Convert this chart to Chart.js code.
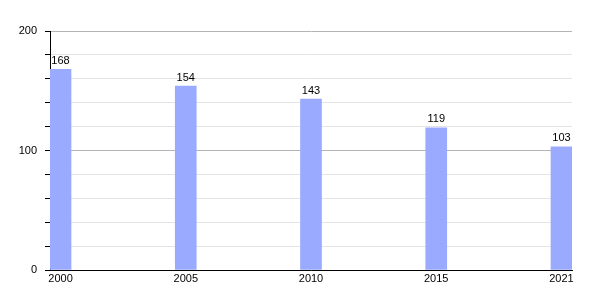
<!DOCTYPE html>
<html>
<head>
<meta charset="utf-8">
<script src="https://cdn.jsdelivr.net/npm/chart.js@4"></script>
<style>
  body { margin: 0; background: #fff; }
  canvas { display: block; }
</style>
</head>
<body>
<canvas id="chart" width="600" height="300"></canvas>
<script>
(function () {

    var years = ['2000', '2005', '2010', '2015', '2021'];
    var population = [168, 154, 143, 119, 103];
    var yTickLabels = [0, 100, 200];

    // bars sit on integer x positions, so the first and last touch the plot edges
    var points = population.map(function (v, i) { return {x: i, y: v}; });

    // little plugin to write the value above each bar
    var valueLabels = {
      id: 'valueLabels',
      afterDatasetsDraw: function (chart) {
        var ctx = chart.ctx;
        var meta = chart.getDatasetMeta(0);
        ctx.save();
        ctx.font = '11px "Liberation Sans", Arial, sans-serif';
        ctx.fillStyle = '#000';
        ctx.textAlign = 'center';
        ctx.textBaseline = 'bottom';
        meta.data.forEach(function (bar, i) {
          ctx.fillText(population[i], bar.x, bar.y - 3);
        });
        ctx.restore();
      }
    };

    new Chart('chart', {
      type: 'bar',
      data: {
        datasets: [{
          data: points,
          backgroundColor: '#99aaff',
          borderWidth: 0,
          barThickness: 21
        }]
      },
      options: {
        responsive: false,
        animation: false,
        layout: { padding: { top: 31, right: 28, left: 0, bottom: 0 } },
        plugins: { legend: { display: false }, tooltip: { enabled: false } },
        scales: {
          x: {
            type: 'linear',
            offset: false,
            min: -0.084,
            max: 4.084,
            afterBuildTicks: function (scale) {
              scale.ticks = years.map(function (y, i) { return {value: i}; });
            },
            afterFit: function (scale) { scale.height = 30; },
            grid: { display: false, drawTicks: false, offset: false },
            border: { color: '#000', width: 1 },
            ticks: {
              padding: 2,
              maxRotation: 0,
              autoSkip: false,
              color: '#000',
              font: { family: '"Liberation Sans", Arial, sans-serif', size: 11 },
              callback: function (value) { return years[value]; }
            }
          },
          y: {
            min: 0,
            max: 200,
            afterFit: function (scale) { scale.width = 50; },
            border: { color: '#000', width: 1 },
            grid: {
              color: function (c) {
                return c.tick.value % 100 === 0 ? '#b4b4b4' : '#e4e4e4';
              },
              tickColor: '#000',
              tickLength: 5
            },
            ticks: {
              stepSize: 20,
              padding: 8,
              color: '#000',
              font: { family: '"Liberation Sans", Arial, sans-serif', size: 11 },
              callback: function (value) {
                return yTickLabels.indexOf(value) >= 0 ? value : '';
              }
            }
          }
        }
      },
      plugins: [valueLabels]
    });
})()
</script>
</body>
</html>
